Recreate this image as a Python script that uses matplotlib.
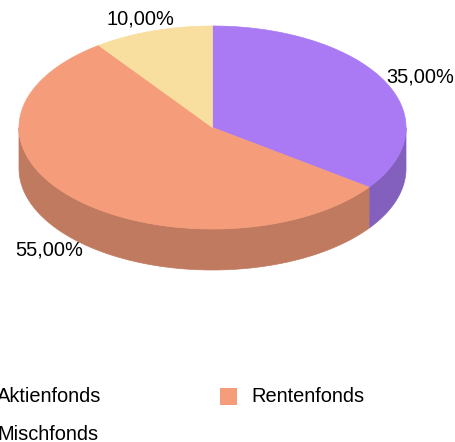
import numpy as np
import matplotlib.pyplot as plt
from matplotlib.patches import Polygon, Rectangle

labels = ['Aktienfonds', 'Rentenfonds', 'Mischfonds']
values = [35, 55, 10]
top_colors = ['#A97AF3', '#F59D7B', '#F8DFA0']
side_colors = ['#835FBE', '#C07A60', '#C2AE7C']

plt.rcParams['font.family'] = ['Liberation Sans', 'DejaVu Sans']

W, H = 456, 442
cx, cy = 212.5, 127.5
rx, ry = 193.5, 101.5
depth = 41

fig = plt.figure(figsize=(W / 100, H / 100), dpi=100)
ax = fig.add_axes([0, 0, 1, 1])
ax.set_xlim(0, W)
ax.set_ylim(H, 0)
ax.axis('off')


def pt(t, dz=0):
    return cx + rx * np.cos(t), cy - ry * np.sin(t) + dz


total = sum(values)
start = np.pi / 2
angles = []
for v in values:
    end = start - 2 * np.pi * v / total
    angles.append((start, end))
    start = end

# sides (only front half visible)
for (a, b), c in zip(angles, side_colors):
    lo, hi = min(a, b), max(a, b)
    segs = []
    for k in range(-2, 2):
        s0 = max(lo, -np.pi + 2 * np.pi * k)
        s1 = min(hi, 0 + 2 * np.pi * k)
        if s1 > s0:
            segs.append((s0, s1))
    for s0, s1 in segs:
        t = np.linspace(s0, s1, 100)
        xs, ys = pt(t)
        xb, yb = pt(t[::-1], depth)
        poly = np.column_stack([np.r_[xs, xb], np.r_[ys, yb]])
        ax.add_patch(Polygon(poly, closed=True, fc=c, ec=c, lw=0.5))

# tops
for (a, b), c in zip(angles, top_colors):
    t = np.linspace(a, b, 200)
    xs, ys = pt(t)
    poly = np.column_stack([np.r_[cx, xs], np.r_[cy, ys]])
    ax.add_patch(Polygon(poly, closed=True, fc=c, ec=c, lw=0.5))

# percentage labels
fs = 14.4
for (a, b), v in zip(angles, values):
    m = (a + b) / 2
    x, y = pt(m)
    txt = f'{v:.2f}'.replace('.', ',') + '%'
    if np.sin(m) < 0:
        y += depth
    if np.cos(m) > 0.5:
        ax.text(x + 1, y - 4, txt, ha='left', va='center', fontsize=fs)
    elif np.cos(m) < -0.5:
        ax.text(x + 7, y + 10, txt, ha='right', va='center', fontsize=fs)
    else:
        ax.text(x - 12, y - 12, txt, ha='center', va='center', fontsize=fs)

# legend (partly cut off on the left)
leg_pos = [(-34, 396), (220, 396), (-34, 434)]
for (lx, ly), lab, c in zip(leg_pos, labels, top_colors):
    ax.add_patch(Rectangle((lx, ly - 8.5), 17, 17, fc=c, ec='none', clip_on=False))
    ax.text(lx + 31, ly, lab, ha='left', va='center', fontsize=fs, clip_on=False)

fig.savefig('out.png', dpi=100)
